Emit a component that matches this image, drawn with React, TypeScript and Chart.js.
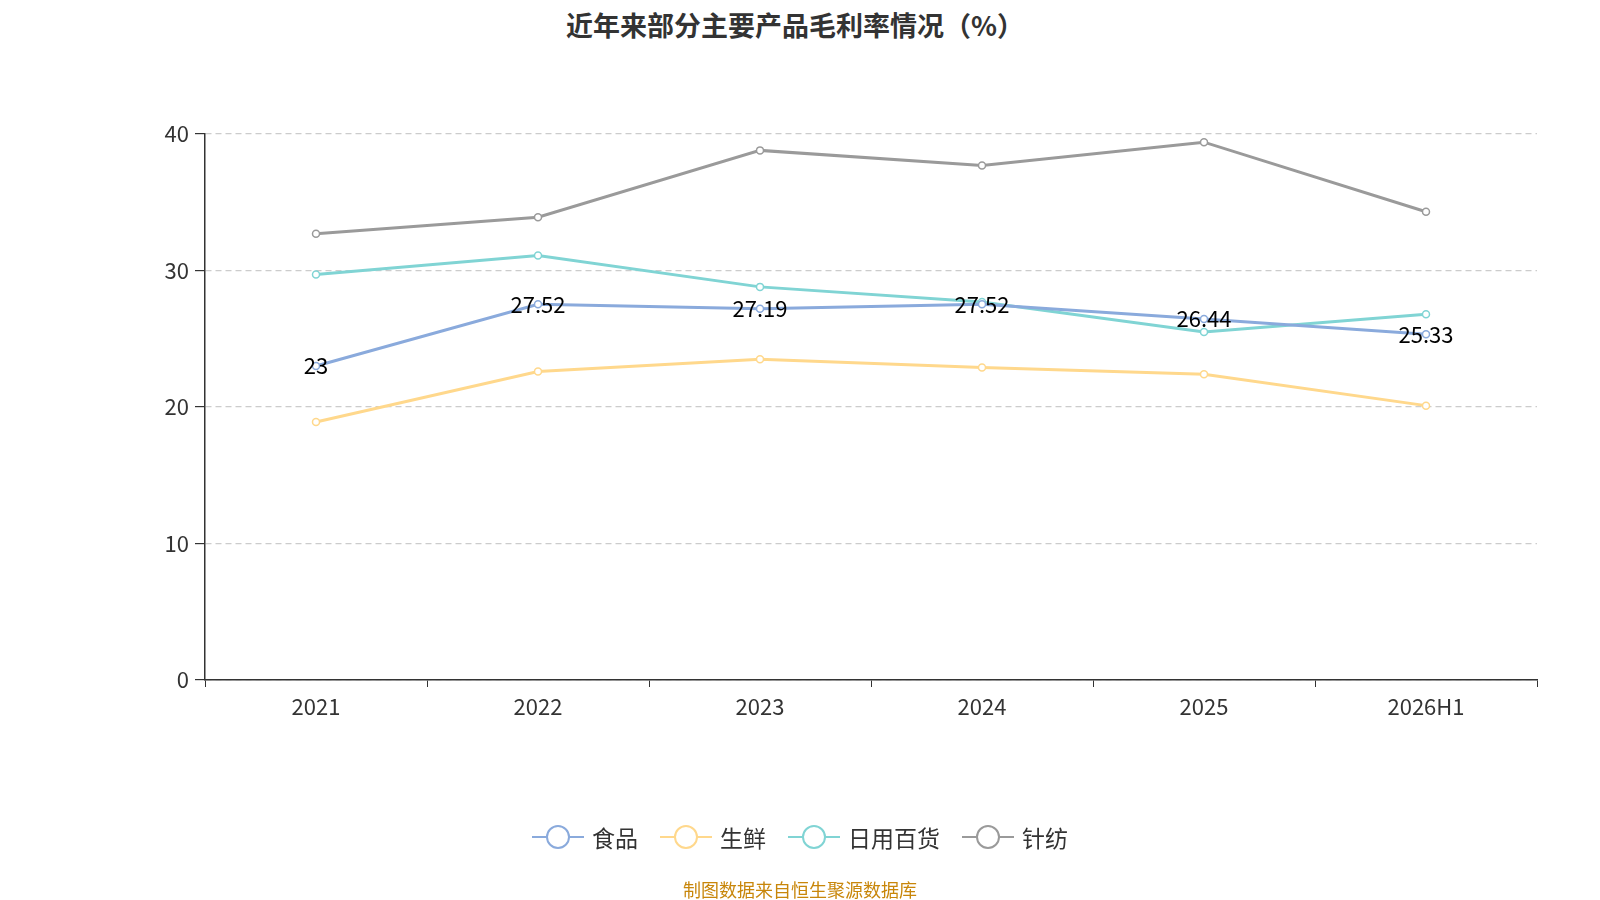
import React, { useEffect, useRef } from "react";
import { Chart, registerables } from "chart.js";
Chart.register(...registerables);

const categories = ["2021", "2022", "2023", "2024", "2025", "2026H1"];
const food = [23, 27.52, 27.19, 27.52, 26.44, 25.33];
const fresh = [18.9, 22.6, 23.5, 22.9, 22.4, 20.1];
const daily = [29.7, 31.1, 28.8, 27.7, 25.5, 26.8];
const textile = [32.7, 33.9, 38.8, 37.7, 39.4, 34.3];
const seriesNames = ["食品", "生鲜", "日用百货", "针纺"];
const colors = ["#8aaadc", "#ffd88c", "#80d4d4", "#9a9a9a"];
const FONT = "'Noto Sans CJK SC', 'Noto Sans', sans-serif";

export default function App() {
  const ref = useRef<HTMLCanvasElement>(null);
  useEffect(() => {
    const labelPlugin = {
      id: "lbl",
      afterDatasetsDraw(chart: any) {
        const ctx = chart.ctx;
        const meta = chart.getDatasetMeta(0);
        ctx.save();
        ctx.font = `22px ${FONT}`;
        ctx.fillStyle = "#000";
        ctx.textAlign = "center";
        ctx.textBaseline = "middle";
        meta.data.forEach((p: any, i: number) => ctx.fillText(String(food[i]), p.x, p.y));
        ctx.restore();
      },
    };
    const data = [food, fresh, daily, textile];
    const chart = new Chart(ref.current!, {
      type: "line",
      data: {
        labels: categories,
        datasets: data.map((d, i) => ({
          label: seriesNames[i],
          data: d,
          borderColor: colors[i],
          backgroundColor: "#fff",
          pointBackgroundColor: "#fff",
          pointBorderColor: colors[i],
          pointBorderWidth: 1.5,
          pointRadius: 3.5,
          borderWidth: 3,
          tension: 0,
        })),
      },
      options: {
        animation: false,
        responsive: false,
        layout: { padding: { left: 0, right: 63, top: 134, bottom: 0 } },
        plugins: { legend: { display: false }, title: { display: false }, tooltip: { enabled: false } },
        scales: {
          x: {
            offset: true,
            grid: { display: true, drawOnChartArea: false, offset: true, tickLength: 7, tickColor: "#333" },
            border: { display: true, color: "#333", width: 1.5 },
            ticks: { color: "#333", font: { size: 22, family: FONT }, padding: 6 },
            afterFit: (s: any) => { s.height = 220; },
          },
          y: {
            min: 0, max: 40,
            ticks: { stepSize: 10, color: "#333", font: { size: 22, family: FONT }, padding: 6 },
            grid: { color: "#ccc", tickColor: "#333", tickLength: 10, lineWidth: 1.2 },
            border: { display: true, color: "#333", width: 1.5, dash: [6, 4] },
            afterFit: (s: any) => { s.width = 205; },
          },
        },
      },
      plugins: [labelPlugin],
    });
    return () => chart.destroy();
  }, []);

  return (
    <div style={{ position: "absolute", left: 0, top: 0, width: 1600, height: 900, background: "#fff", fontFamily: FONT }}>
      <div style={{ position: "absolute", top: 5, width: 1590, textAlign: "center", fontSize: 27, fontWeight: "bold", color: "#333" }}>
        近年来部分主要产品毛利率情况（%）
      </div>
      <canvas ref={ref} width={1600} height={900} style={{ position: "absolute", left: 0, top: 0 }} />
      <div style={{ position: "absolute", top: 820, width: 1600, display: "flex", justifyContent: "center", gap: 22, fontSize: 23, color: "#333" }}>
        {seriesNames.map((n, i) => (
          <div key={n} style={{ display: "flex", alignItems: "center", gap: 8 }}>
            <svg width="52" height="30">
              <line x1="0" y1="15" x2="52" y2="15" stroke={colors[i]} strokeWidth="2" />
              <circle cx="26" cy="15" r="11" fill="#fff" stroke={colors[i]} strokeWidth="2" />
            </svg>
            <span>{n}</span>
          </div>
        ))}
      </div>
      <div style={{ position: "absolute", top: 876, width: 1600, textAlign: "center", fontSize: 18, color: "#c8860a" }}>
        制图数据来自恒生聚源数据库
      </div>
    </div>
  );
}
